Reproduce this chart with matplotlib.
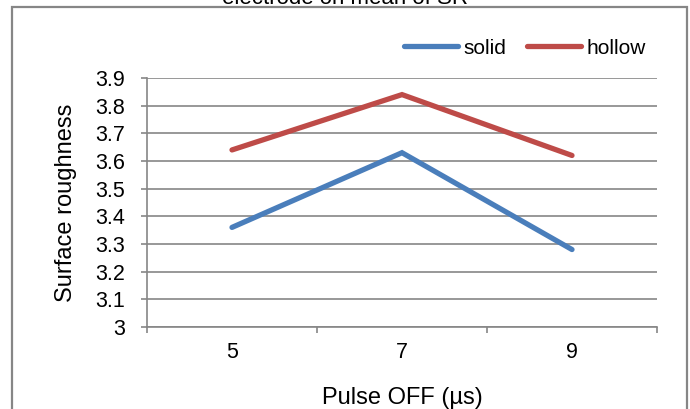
import matplotlib.pyplot as plt
from matplotlib.patches import Rectangle

plt.rcParams['font.family'] = ['Liberation Sans', 'DejaVu Sans']

# Surface roughness against pulse OFF time, two electrode types
pulse_off = ['5', '7', '9']
solid = [3.36, 3.63, 3.28]
hollow = [3.64, 3.84, 3.62]
y_ticks = [3.0, 3.1, 3.2, 3.3, 3.4, 3.5, 3.6, 3.7, 3.8, 3.9]
y_tick_labels = ['3', '3.1', '3.2', '3.3', '3.4', '3.5', '3.6', '3.7', '3.8', '3.9']

grey = '#868686'
W, H = 690, 409

fig = plt.figure(figsize=(W / 100, H / 100), dpi=100)
ax = fig.add_axes([147 / W, 1 - 327 / H, 510 / W, 249 / H])

x = list(range(len(pulse_off)))
ax.plot(x, solid, color='#4A7EBB', lw=3.8, solid_capstyle='round',
        solid_joinstyle='miter', label='solid', zorder=3)
ax.plot(x, hollow, color='#BE4B48', lw=3.8, solid_capstyle='round',
        solid_joinstyle='miter', label='hollow', zorder=3)

ax.set_xlim(-0.5, len(pulse_off) - 0.5)
ax.set_ylim(3.0, 3.9)
ax.set_xticks(x)
ax.set_xticklabels(pulse_off)
ax.set_xticks([i - 0.5 for i in range(len(pulse_off) + 1)], minor=True)
ax.set_yticks(y_ticks)
ax.set_yticklabels(y_tick_labels)

ax.tick_params(axis='x', which='major', length=0, pad=11, labelsize=15.5)
ax.tick_params(axis='x', which='minor', length=4.5, width=1.2, color=grey)
ax.tick_params(axis='y', length=4, width=1.2, color=grey, pad=12, labelsize=15.5)

ax.grid(axis='y', color=grey, lw=1.2)
ax.set_axisbelow(True)
for side in ['top', 'right']:
    ax.spines[side].set_visible(False)
for side in ['left', 'bottom']:
    ax.spines[side].set_color(grey)
    ax.spines[side].set_linewidth(1.2)

ax.set_xlabel('Pulse OFF (µs)', fontsize=17, labelpad=17)
ax.set_ylabel('Surface roughness', fontsize=17, labelpad=13)

fig.legend(loc='center', bbox_to_anchor=(525 / W, 1 - 48 / H), ncol=2,
           frameon=False, fontsize=15, handlelength=2.6, handletextpad=0.25,
           columnspacing=1.0)

# chart title, second line only
fig.text(0.5, 1 - 4 / H, 'electrode on mean of SR', ha='center', va='baseline',
         fontsize=16)

# chart area border
fig.patches.append(Rectangle((12 / W, -0.1), 675 / W, 1.1 - 7 / H,
                             transform=fig.transFigure, fill=False,
                             edgecolor=grey, lw=1.6))

fig.savefig('out.png', dpi=100)
